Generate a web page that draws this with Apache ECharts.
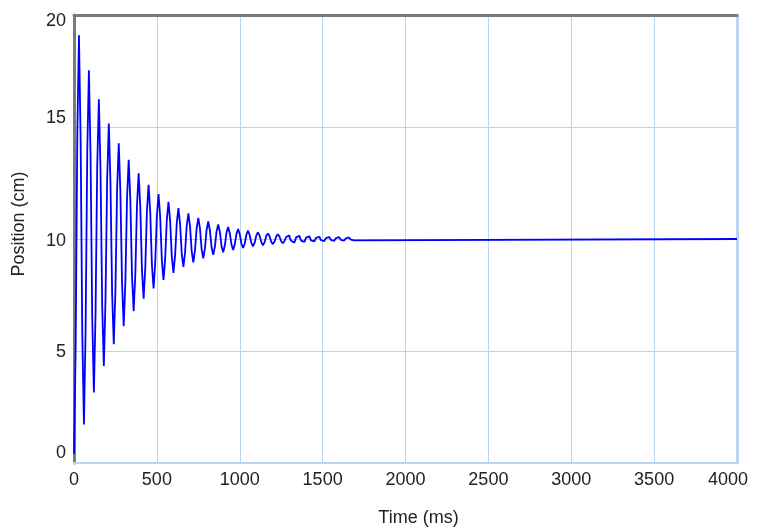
<!DOCTYPE html>
<html>
<head>
<meta charset="utf-8">
<script src="https://cdn.jsdelivr.net/npm/echarts@6/dist/echarts.min.js"></script>
<style>
html,body{margin:0;padding:0;background:#fff;}
#chart{width:758px;height:527px;}
</style>
</head>
<body>
<div id="chart"></div>
<script>
// Time samples (ms)
var timeMs = [
0,10,20,30,40,50,60,70,80,90,
100,110,120,130,140,150,160,170,180,190,
200,210,220,230,240,250,260,270,280,290,
300,310,320,330,340,350,360,370,380,390,
400,410,420,430,440,450,460,470,480,490,
500,510,520,530,540,550,560,570,580,590,
600,610,620,630,640,650,660,670,680,690,
700,710,720,730,740,750,760,770,780,790,
800,810,820,830,840,850,860,870,880,890,
900,910,920,930,940,950,960,970,980,990,
1000,1010,1020,1030,1040,1050,1060,1070,1080,1090,
1100,1110,1120,1130,1140,1150,1160,1170,1180,1190,
1200,1210,1220,1230,1240,1250,1260,1270,1280,1290,
1300,1310,1320,1330,1340,1350,1360,1370,1380,1390,
1400,1410,1420,1430,1440,1450,1460,1470,1480,1490,
1500,1510,1520,1530,1540,1550,1560,1570,1580,1590,
1600,1610,1620,1630,1640,1650,1660,1670,1680,1690,
1700,4000
];
// Position (cm)
var positionCm = [
0.40,5.15,14.70,19.10,14.41,5.73,1.72,5.99,13.89,17.53,
13.65,6.46,3.15,6.68,13.22,16.24,13.02,7.07,4.33,7.25,
12.67,15.16,12.50,7.57,5.30,7.72,12.21,14.27,12.07,7.99,
6.11,8.11,11.83,13.54,11.72,8.34,6.78,8.44,11.51,12.93,
11.42,8.62,7.34,8.71,11.25,12.42,11.18,8.86,7.79,8.93,
11.04,12.01,10.98,9.06,8.17,9.11,10.86,11.66,10.81,9.22,
8.49,9.27,10.71,11.38,10.67,9.35,8.75,9.39,10.59,11.14,
10.55,9.46,8.96,9.50,10.49,10.94,10.46,9.55,9.14,9.58,
10.41,10.78,10.38,9.63,9.29,9.65,10.34,10.65,10.32,9.69,
9.41,9.71,10.28,10.54,10.26,9.75,9.51,9.76,10.23,10.44,
10.22,9.79,9.60,9.80,10.19,10.37,10.18,9.83,9.67,9.84,
10.16,10.30,10.15,9.86,9.72,9.86,10.13,10.25,10.12,9.88,
9.77,9.89,10.11,10.21,10.10,9.90,9.81,9.91,10.09,10.17,
10.08,9.92,9.84,9.92,10.07,10.14,10.07,9.93,9.87,9.94,
10.06,10.12,10.06,9.94,9.89,9.95,10.05,10.10,10.05,9.95,
9.91,9.96,10.04,10.09,10.04,9.96,9.92,9.96,10.04,10.08,
10.04,9.96,9.93,9.97,10.03,10.07,10.03,9.97,9.94,9.97,
10.00,10.00
];
var xTicks = [0,500,1000,1500,2000,2500,3000,3500,4000];
var yTicks = [0,5,10,15,20];

var seriesData = timeMs.map(function(t,i){ return [t, positionCm[i]]; });

var chart = echarts.init(document.getElementById('chart'), null, {renderer:'canvas'});
var gridColor = '#bcd4ee';
var darkAxis = '#7a7a7a';
var font = 'Liberation Sans, Arial, sans-serif';

var yRich = {
  a20:{padding:[12,0,0,0], fontSize:18, color:'#222', fontFamily:font},
  a15:{padding:[0,0,18,0], fontSize:18, color:'#222', fontFamily:font},
  a10:{padding:[4,0,0,0], fontSize:18, color:'#222', fontFamily:font},
  a5:{padding:[2,0,0,0], fontSize:18, color:'#222', fontFamily:font},
  a0:{padding:[0,0,20,0], fontSize:18, color:'#222', fontFamily:font}
};
var xRich = {
  n:{fontSize:18, color:'#222', fontFamily:font},
  last:{padding:[0,18,0,0], fontSize:18, color:'#222', fontFamily:font}
};

chart.setOption({
  animation:false,
  backgroundColor:'#ffffff',
  grid:{left:74, right:21, top:15, bottom:64, containLabel:false, outerBoundsMode:'none'},
  xAxis:[{
    type:'value', min:xTicks[0], max:xTicks[xTicks.length-1], interval:500,
    position:'bottom',
    name:'Time (ms)', nameLocation:'middle', nameGap:46,
    nameTextStyle:{fontSize:18, color:'#222', fontFamily:font, padding:[0,0,0,26]},
    axisLine:{show:true, onZero:false, lineStyle:{color:gridColor, width:2}},
    axisTick:{show:false},
    axisLabel:{margin:8, formatter:function(v){ return v===4000 ? '{last|'+v+'}' : '{n|'+v+'}'; }, rich:xRich},
    splitLine:{show:true, lineStyle:{color:gridColor, width:1}}
  },{
    type:'value', min:0, max:4000, position:'top',
    axisLine:{show:true, onZero:false, lineStyle:{color:darkAxis, width:3}},
    axisTick:{show:false}, axisLabel:{show:false}, splitLine:{show:false}
  }],
  yAxis:[{
    type:'value', min:yTicks[0], max:yTicks[yTicks.length-1], interval:5,
    position:'left',
    name:'Position (cm)', nameLocation:'middle', nameGap:46, nameRotate:90,
    nameTextStyle:{fontSize:18, color:'#222', fontFamily:font, padding:[0,0,0,30]},
    axisLine:{show:true, onZero:false, lineStyle:{color:darkAxis, width:3}},
    axisTick:{show:false},
    axisLabel:{margin:8, formatter:function(v){ return '{a'+v+'|'+v+'}'; }, rich:yRich},
    splitLine:{show:true, lineStyle:{color:gridColor, width:1}}
  },{
    type:'value', min:0, max:20, position:'right',
    axisLine:{show:true, onZero:false, lineStyle:{color:gridColor, width:3}},
    axisTick:{show:false}, axisLabel:{show:false}, splitLine:{show:false}
  }],
  series:[{
    type:'line', xAxisIndex:0, yAxisIndex:0,
    data:seriesData, step:'end', showSymbol:false, symbol:'none',
    lineStyle:{color:'#0000ff', width:1.8},
    clip:true
  }]
});
</script>
</body>
</html>
